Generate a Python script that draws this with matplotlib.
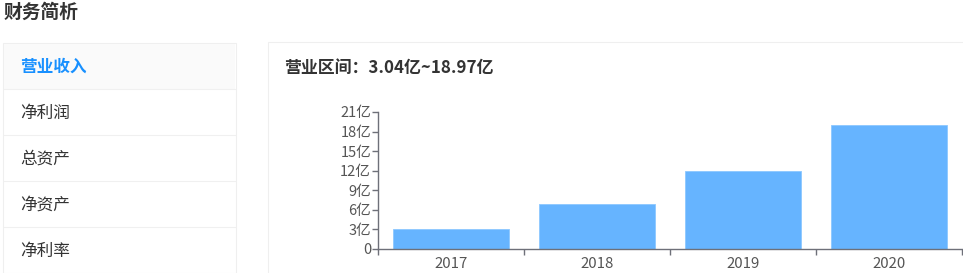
import matplotlib
matplotlib.use("Agg")
import matplotlib.pyplot as plt
from matplotlib.patches import Rectangle

plt.rcParams["font.family"] = ["Noto Sans CJK SC", "DejaVu Sans"]

W, H = 963, 273

years = ["2017", "2018", "2019", "2020"]
revenue = [3.04, 6.95, 11.98, 18.97]  # 亿
yticks = [0, 3, 6, 9, 12, 15, 18, 21]
ytick_labels = ["0"] + ["{}亿".format(v) for v in yticks[1:]]
menu = ["营业收入", "净利润", "总资产", "净资产", "净利率"]

BLUE = "#1890ff"
BAR = "#66b4ff"
INK = "#333333"
AXIS = "#6e7079"
LINE = "#f0f0f0"


def fx(x):
    return x / W


def fy(y):
    return 1 - y / H


fig = plt.figure(figsize=(W / 100, H / 100), dpi=100)
fig.patch.set_facecolor("white")

fig.text(fx(4), fy(12), "财务简析", ha="left", va="center", color=INK,
         fontsize=13.5, fontweight="bold")

# left menu panel
fig.patches.append(Rectangle((fx(3), fy(280)), fx(233), fy(43) - fy(280),
                             transform=fig.transFigure, facecolor="white",
                             edgecolor="#efefef", lw=0.8, zorder=-2))
fig.patches.append(Rectangle((fx(4), fy(89)), fx(231), fy(44) - fy(89),
                             transform=fig.transFigure, facecolor="#fafafa",
                             edgecolor="none", zorder=-1))
for i, name in enumerate(menu):
    yc = 67 + 46 * i
    if i == 0:
        fig.text(fx(20), fy(yc), name, ha="left", va="center", color=BLUE,
                 fontsize=12, fontweight="bold", zorder=3)
    else:
        fig.text(fx(20), fy(yc), name, ha="left", va="center", color=INK,
                 fontsize=12, zorder=3)
    fig.add_artist(plt.Line2D([fx(4), fx(235)], [fy(yc + 22), fy(yc + 22)],
                              color=LINE, lw=0.8, transform=fig.transFigure))

# right chart panel
fig.patches.append(Rectangle((fx(268), fy(280)), fx(700), fy(42) - fy(280),
                             transform=fig.transFigure, facecolor="white",
                             edgecolor="#efefef", lw=0.8, zorder=-2))
fig.text(fx(284), fy(68), "营业区间：{:.2f}亿~{:.2f}亿".format(min(revenue), max(revenue)),
         ha="left", va="center", color=INK, fontsize=12.2, fontweight="bold")

ax = fig.add_axes([fx(378), fy(249), fx(962) - fx(378), fy(112) - fy(249)], zorder=5)
ax.set_facecolor("none")
x = list(range(len(years)))
ax.bar(x, revenue, width=0.8, color=BAR, edgecolor="#8cc8ff", linewidth=0.6)
ax.set_xlim(-0.5, len(years) - 0.5)
ax.set_ylim(0, 21)
ax.set_yticks(yticks)
ax.set_yticklabels(ytick_labels)
ax.set_xticks(x)
ax.set_xticklabels(years)
ax.set_xticks([i - 0.5 for i in range(len(years) + 1)], minor=True)
ax.tick_params(axis="x", which="major", length=0, pad=6, labelsize=10.8, labelcolor="#555555")
ax.tick_params(axis="x", which="minor", length=4, color=AXIS, width=1)
ax.tick_params(axis="y", length=4, color=AXIS, width=1, pad=1, labelsize=10.5,
               labelcolor="#555555")
for s in ["top", "right"]:
    ax.spines[s].set_visible(False)
for s in ["left", "bottom"]:
    ax.spines[s].set_color(AXIS)
    ax.spines[s].set_linewidth(1)

fig.savefig("out.png", dpi=100, facecolor="white")
